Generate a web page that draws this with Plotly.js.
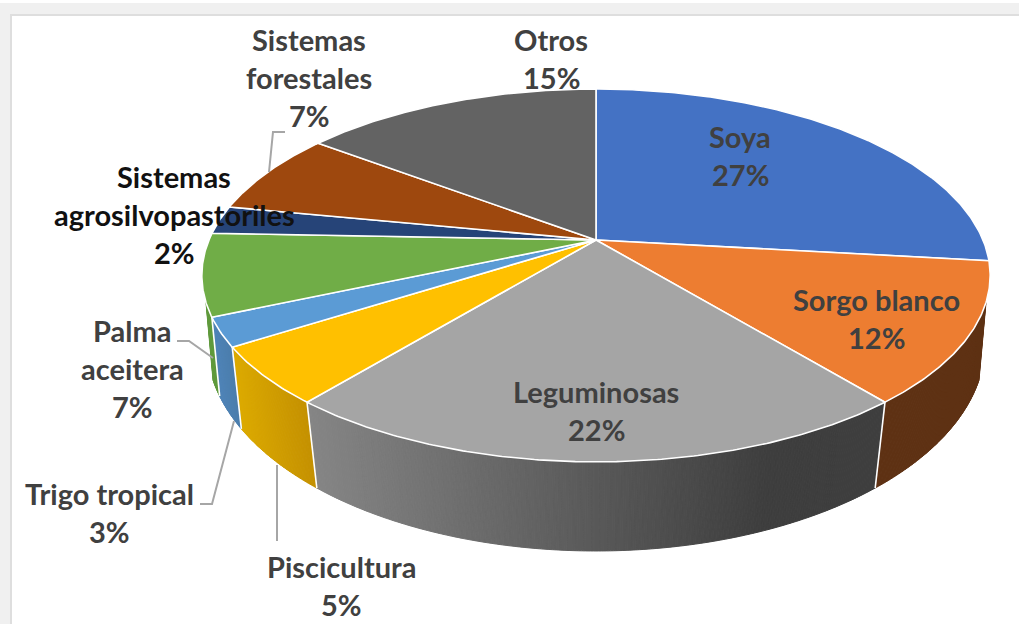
<!DOCTYPE html>
<html>
<head>
<meta charset="utf-8">
<script src="https://cdn.plot.ly/plotly-3.0.0.min.js"></script>
<style>html,body{margin:0;padding:0;background:#fff;overflow:hidden}</style>
</head>
<body>
<div id="chart" style="width:1019px;height:624px"></div>
<script>
// ---- data ----
const categories = ["Soya","Sorgo blanco","Leguminosas","Piscicultura","Trigo tropical","Palma aceitera","Sistemas agrosilvopastoriles","Sistemas forestales","Otros"];
const values = [26.8,12.2,22,5,2.5,7.1,2.45,7.2,14.75];
const topColors = ["#4472C4","#ED7D31","#A5A5A5","#FFC000","#5B9BD5","#70AD47","#264478","#9E480E","#636363"];
const wallLeft  = ["#2f5597","#5e3113","#858585","#dcaa00","#4f84b8","#5f9a3c","#1c3358","#6f330a","#484848"];
const wallRight = ["#2f5597","#5e3113","#3e3e3e","#c49000","#4a7cab","#5f9a3c","#1c3358","#6f330a","#484848"];
const labelLines = [["Soya"],["Sorgo blanco"],["Leguminosas"],["Piscicultura"],["Trigo tropical"],["Palma","aceitera"],["Sistemas","agrosilvopastoriles"],["Sistemas","forestales"],["Otros"]];
const labelX = [740,876,596,341,109,132,174,309,551];
const labelTopY = [136,299,391,566,493,330,176,39,39];
const labelColor = ["#404040","#404040","#404040","#404040","#404040","#404040","#111111","#404040","#404040"];
const leaderX = [[285,273,269],[177,189,213],[200,212,234],[277,277]];
const leaderY = [[132,132,172],[341,341,358],[504,504,421],[541,465]];

// ---- view of the tilted disc ----
const topFace = {cx:596, cy:240, bx:387, ay:179.7, k:0.19};
const baseFace = {cx:596, cy:310.5, bx:384, ay:202, k:0.16};
const wallFrom = 109, wallTo = 251;
const lineGap = 38.2;

function project(face, deg){
  const t = deg*Math.PI/180, X = Math.sin(t), Y = Math.cos(t), w = 1+face.k*Y;
  return [face.cx + face.bx*X/w, face.cy - face.ay*Y/w];
}
function mix(a,b,f){
  const p = c => [1,3,5].map(i=>parseInt(c.substr(i,2),16));
  const A=p(a),B=p(b);
  return "rgb("+A.map((v,i)=>Math.round(v+(B[i]-v)*f)).join(",")+")";
}
const total = values.reduce((a,b)=>a+b,0);
const edges = [0];
values.forEach(v=>edges.push(edges[edges.length-1]+v/total*360));

const traces = [];
const base = {mode:"lines",fill:"toself",hoverinfo:"skip",showlegend:false,type:"scatter"};

// side wall, painted as narrow strips so the shading runs across it
values.forEach((v,i)=>{
  const a = Math.max(edges[i],wallFrom), b = Math.min(edges[i+1],wallTo);
  if(b<=a) return;
  const n = Math.ceil((b-a)*3);
  const xa = project(topFace,a)[0], xb = project(topFace,b)[0];
  for(let s=0;s<n;s++){
    const d0=a+(b-a)*s/n, d1=a+(b-a)*(s+1)/n;
    const p=[project(topFace,d0),project(topFace,d1),project(baseFace,d1),project(baseFace,d0)];
    const xm=(p[0][0]+p[1][0])/2, lo=Math.min(xa,xb), hi=Math.max(xa,xb);
    let f=(xm-lo)/(hi-lo);
    if(i===2) f=Math.min(1,f/0.8);
    const c=mix(wallLeft[i],wallRight[i],f);
    traces.push(Object.assign({},base,{
      x:[...p.map(q=>q[0]),p[0][0]],y:[...p.map(q=>q[1]),p[0][1]],
      fillcolor:c,line:{color:c,width:1}
    }));
  }
});
// white seams between wall pieces
edges.forEach(e=>{
  if(e<wallFrom||e>wallTo) return;
  const p=project(topFace,e),q=project(baseFace,e);
  traces.push({type:"scatter",mode:"lines",x:[p[0],q[0]],y:[p[1],q[1]],line:{color:"#ffffff",width:1.6},hoverinfo:"skip",showlegend:false});
});
// top faces
values.forEach((v,i)=>{
  const xs=[topFace.cx], ys=[topFace.cy];
  const n=Math.ceil(edges[i+1]-edges[i])*2;
  for(let s=0;s<=n;s++){
    const q=project(topFace,edges[i]+(edges[i+1]-edges[i])*s/n);
    xs.push(q[0]);ys.push(q[1]);
  }
  xs.push(topFace.cx);ys.push(topFace.cy);
  traces.push(Object.assign({},base,{x:xs,y:ys,fillcolor:topColors[i],line:{color:"#ffffff",width:1.6},name:categories[i]}));
});
// leader lines
leaderX.forEach((lx,i)=>{
  traces.push({type:"scatter",mode:"lines",x:lx,y:leaderY[i],line:{color:"#a6a6a6",width:2},hoverinfo:"skip",showlegend:false});
});

const annotations=[];
labelLines.forEach((lines,i)=>{
  const all=[...lines,Math.round(values[i])+"%"];
  all.forEach((t,j)=>{
    annotations.push({x:labelX[i],y:labelTopY[i]+j*lineGap,xref:"x",yref:"y",text:t,showarrow:false,
      xanchor:"center",yanchor:"middle",font:{family:"Lato, 'Noto Sans', sans-serif",size:29,color:labelColor[i],weight:700}});
  });
});

const layout={
  width:1019,height:624,margin:{l:0,r:0,t:0,b:0},
  paper_bgcolor:"#ffffff",plot_bgcolor:"#ffffff",showlegend:false,
  xaxis:{range:[0,1019],visible:false,fixedrange:true},
  yaxis:{range:[624,0],visible:false,fixedrange:true},
  shapes:[
    {type:"rect",xref:"x",yref:"y",x0:0,x1:1019,y0:3,y1:624,fillcolor:"#f0f0f0",line:{width:0},layer:"below"},
    {type:"rect",xref:"x",yref:"y",x0:11,x1:1030,y0:15,y1:640,fillcolor:"#ffffff",line:{color:"#dedede",width:2},layer:"below"}
  ],
  annotations
};
Plotly.newPlot("chart",traces,layout,{displayModeBar:false,staticPlot:true});
</script>
</body>
</html>
